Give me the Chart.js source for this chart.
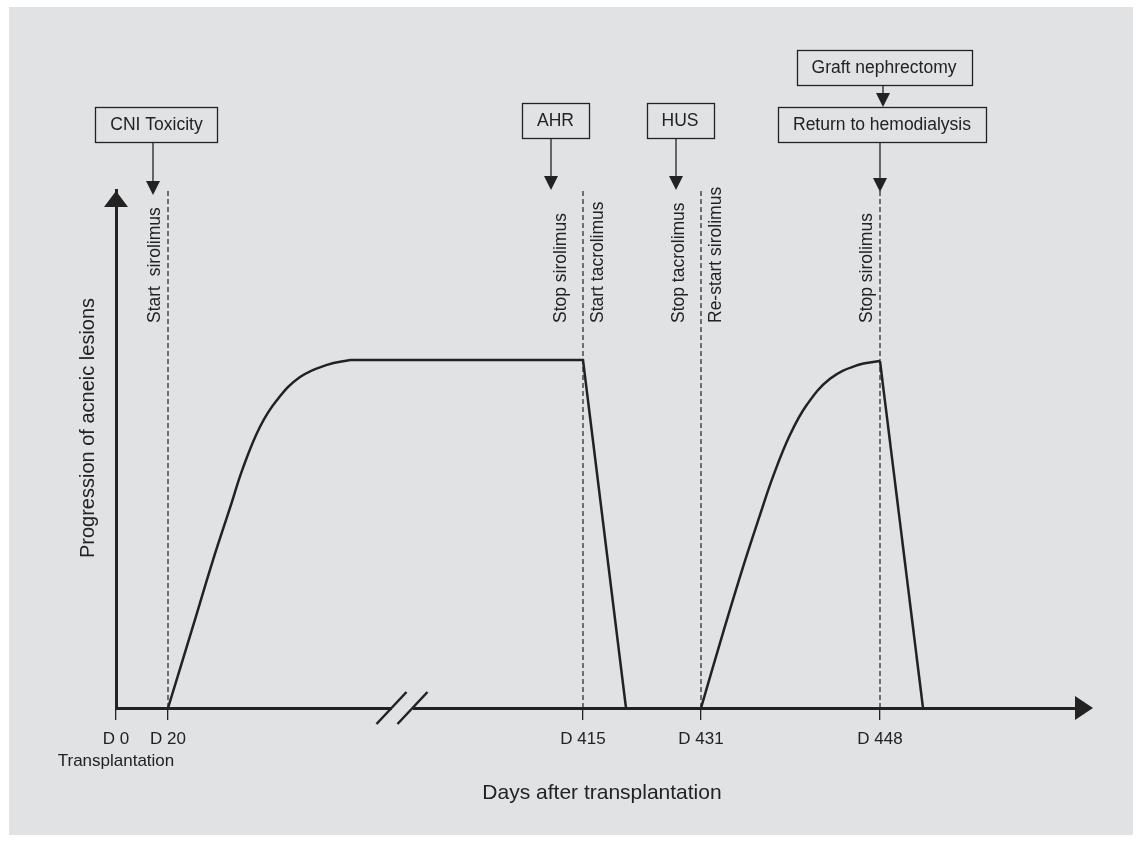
<!DOCTYPE html>
<html>
<head>
<meta charset="utf-8">
<script src="https://cdn.jsdelivr.net/npm/chart.js@4.4.1/dist/chart.umd.min.js"></script>
<style>
  html, body { margin: 0; padding: 0; background: #ffffff; }
  #wrap { width: 1142px; height: 842px; }
</style>
</head>
<body>
<div id="wrap"><canvas id="c" width="1142" height="842"></canvas></div>
<script>
// ---- Data (schematic axis units; the day axis is broken between D 20 and D 415) ----
const tickPositions = [0, 52, 467, 585, 764];
const tickLabels = [['D 0', 'Transplantation'], 'D 20', 'D 415', 'D 431', 'D 448'];

const rise1X = [52, 77, 97, 114, 127, 144, 161, 184, 211, 234];
const rise1Y = [0, 0.235, 0.425, 0.575, 0.69, 0.808, 0.885, 0.951, 0.986, 1.0];
const fall1X = [234, 467, 510];
const fall1Y = [1.0, 1.0, 0];
const rise2X = [585, 607, 627, 644, 657, 674, 691, 714, 741, 764];
const rise2Y = [0, 0.216, 0.405, 0.555, 0.665, 0.785, 0.872, 0.946, 0.985, 0.997];
const fall2X = [764, 807];
const fall2Y = [0.997, 0];

const eventLines = [52, 467, 585, 764];

const drugLabels = ['Start  sirolimus', 'Stop sirolimus', 'Start tacrolimus', 'Stop tacrolimus', 'Re-start sirolimus', 'Stop sirolimus'];
const drugLabelAt = [52, 467, 467, 585, 585, 764];
const drugLabelSide = ['left', 'left', 'right', 'left', 'right', 'left'];

const boxLabels = ['CNI Toxicity', 'AHR', 'HUS', 'Graft nephrectomy', 'Return to hemodialysis'];
const boxCenterAt = [40.5, 439.5, 564, 768, 766];
const boxArrowAt = [37, 435, 560, 767, 764];

const breakAt = 286;
const xMax = 972;
const yMax = 1.4885;

const xTitle = 'Days after transplantation';
const yTitle = 'Progression of acneic lesions';

// ---- Styling ----
const FONT = '"Liberation Sans", Arial, Helvetica, sans-serif';
const INK = '#222222';
const BG = '#e1e2e4';

function pts(xs, ys) { return xs.map((x, i) => ({ x: x, y: ys[i] })); }

const datasets = [
  { data: pts(rise1X, rise1Y), tension: 0.4 },
  { data: pts(fall1X, fall1Y), tension: 0 },
  { data: pts(rise2X, rise2Y), tension: 0.4 },
  { data: pts(fall2X, fall2Y), tension: 0 }
].map(d => Object.assign({
  borderColor: INK, borderWidth: 2.5, pointRadius: 0, showLine: true, fill: false,
  borderJoinStyle: 'miter', borderCapStyle: 'butt'
}, d));

eventLines.forEach(x => {
  datasets.push({
    data: [{ x: x, y: 0 }, { x: x, y: yMax }],
    borderColor: '#222222', borderWidth: 1.2, borderDash: [5, 3],
    pointRadius: 0, showLine: true, fill: false, tension: 0
  });
});

function arrowHead(ctx, x, y, dir, half, len) {
  ctx.beginPath();
  if (dir === 'down') { ctx.moveTo(x, y); ctx.lineTo(x - half, y - len); ctx.lineTo(x + half, y - len); }
  else if (dir === 'up') { ctx.moveTo(x, y); ctx.lineTo(x - half, y + len); ctx.lineTo(x + half, y + len); }
  else { ctx.moveTo(x, y); ctx.lineTo(x - len, y - half); ctx.lineTo(x - len, y + half); }
  ctx.closePath();
  ctx.fill();
}

const decor = {
  id: 'decor',
  beforeDraw(chart) {
    const ctx = chart.ctx;
    ctx.save();
    ctx.fillStyle = '#ffffff';
    ctx.fillRect(0, 0, chart.width, chart.height);
    ctx.fillStyle = BG;
    ctx.fillRect(9, 7, 1124, 828);
    ctx.restore();
  },
  afterDraw(chart) {
    const ctx = chart.ctx;
    const xs = chart.scales.x, ys = chart.scales.y;
    const area = chart.chartArea;
    ctx.save();
    ctx.fillStyle = INK;
    ctx.strokeStyle = INK;

    // y-axis title
    ctx.save();
    ctx.font = '20px ' + FONT;
    ctx.textAlign = 'center';
    ctx.textBaseline = 'middle';
    ctx.translate(88, 428);
    ctx.rotate(-Math.PI / 2);
    ctx.fillText(yTitle, 0, 0);
    ctx.restore();

    // axis arrowheads
    const ax = xs.getPixelForValue(0);
    const ay = ys.getPixelForValue(0);
    ctx.lineWidth = 3;
    ctx.beginPath(); ctx.moveTo(area.right - 2, ay); ctx.lineTo(1080, ay); ctx.stroke();
    arrowHead(ctx, ax, area.top + 1, 'up', 12, 16);
    arrowHead(ctx, 1093, ay, 'right', 12, 18);

    // axis break
    const bx = xs.getPixelForValue(breakAt);
    ctx.fillStyle = BG;
    ctx.fillRect(bx - 10, ay - 3, 21, 6);
    ctx.fillStyle = INK;
    ctx.lineWidth = 2.5;
    [-10.5, 10.5].forEach(o => {
      ctx.beginPath();
      ctx.moveTo(bx + o - 15, ay + 16);
      ctx.lineTo(bx + o + 15, ay - 16);
      ctx.stroke();
    });

    // rotated drug labels
    ctx.font = '17.5px ' + FONT;
    ctx.textBaseline = 'middle';
    ctx.textAlign = 'left';
    drugLabels.forEach((t, i) => {
      const at = drugLabelAt[i];
      const hasRight = drugLabelAt.some((a, j) => a === at && drugLabelSide[j] === 'right');
      const off = drugLabelSide[i] === 'right' ? 15 : (hasRight ? -22 : -13);
      const px = xs.getPixelForValue(at) + off;
      ctx.save();
      ctx.translate(px, 323);
      ctx.rotate(-Math.PI / 2);
      ctx.fillText(t, 0, 0);
      ctx.restore();
    });

    // event boxes with arrows
    const boxTop = [107, 103, 103, 50, 107];
    const arrowTip = [195, 190, 190, 107, 192];
    const boxH = 35;
    ctx.textAlign = 'center';
    boxLabels.forEach((t, i) => {
      const cx = xs.getPixelForValue(boxCenterAt[i]);
      const w = ctx.measureText(t).width + 30;
      ctx.lineWidth = 1.3;
      ctx.strokeRect(Math.round(cx - w / 2) + 0.5, boxTop[i] + 0.5, Math.round(w), boxH);
      ctx.fillText(t, cx, boxTop[i] + boxH / 2 + 1);
      const axp = xs.getPixelForValue(boxArrowAt[i]);
      ctx.lineWidth = 1.3;
      ctx.beginPath();
      ctx.moveTo(axp, boxTop[i] + boxH + 1);
      ctx.lineTo(axp, arrowTip[i] - 8);
      ctx.stroke();
      arrowHead(ctx, axp, arrowTip[i], 'down', 7, 14);
    });
    ctx.restore();
  }
};

new Chart(document.getElementById('c'), {
  type: 'line',
  data: { datasets: datasets },
  plugins: [decor],
  options: {
    responsive: false,
    animation: false,
    events: [],
    layout: { padding: { left: 56, top: 190, right: 54, bottom: 24 } },
    plugins: { legend: { display: false }, tooltip: { enabled: false } },
    scales: {
      x: {
        type: 'linear', min: 0, max: xMax,
        afterFit: s => { s.height = 110; },
        afterBuildTicks: s => { s.ticks = tickPositions.map(v => ({ value: v })); },
        ticks: {
          autoSkip: false, maxRotation: 0, padding: 9, color: INK,
          font: { family: FONT, size: 17, lineHeight: 1.25 },
          callback: (v) => { const i = tickPositions.indexOf(v); return i >= 0 ? tickLabels[i] : ''; }
        },
        grid: { display: true, drawOnChartArea: false, drawTicks: true, tickLength: 12, color: INK, lineWidth: 1.3 },
        border: { display: true, color: INK, width: 3 },
        title: { display: true, text: xTitle, color: INK, font: { family: FONT, size: 21 }, padding: { top: 0, bottom: 12 } }
      },
      y: {
        type: 'linear', min: 0, max: yMax,
        afterFit: s => { s.width = 60; },
        ticks: { display: false },
        grid: { display: true, drawOnChartArea: false, drawTicks: false },
        border: { display: true, color: INK, width: 3 },
        title: { display: false }
      }
    }
  }
});
</script>
</body>
</html>
